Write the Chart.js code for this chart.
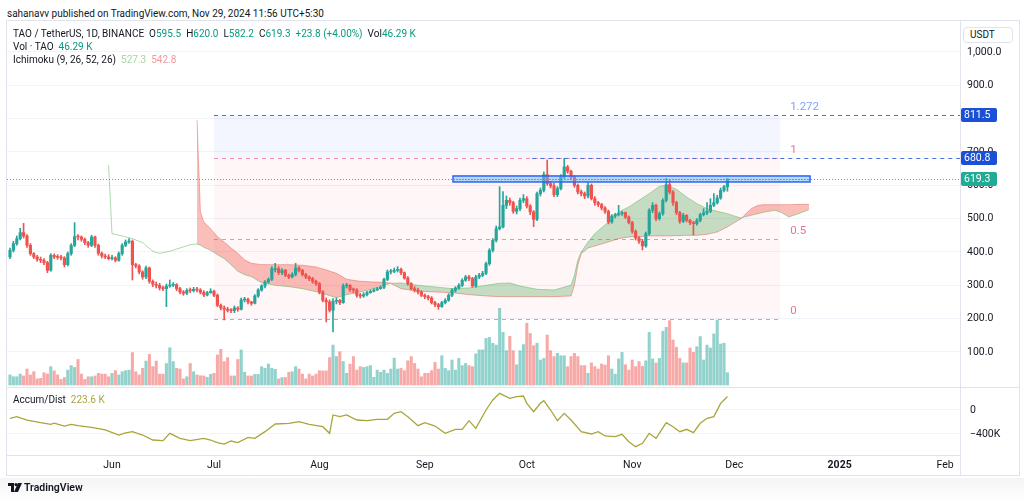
<!DOCTYPE html>
<html>
<head>
<meta charset="utf-8">
<script src="https://cdn.jsdelivr.net/npm/chart.js@4.4.1/dist/chart.umd.min.js"></script>
<style>
  body { margin: 0; width: 1024px; height: 501px; background: #fff; position: relative; overflow: hidden;
         font-family: Roboto, "Noto Sans", sans-serif; color: #131722; }
  .abs { position: absolute; white-space: nowrap; }
  .g { color: #089981; }
  .sp { margin-left: 5px; }
  .line { position: absolute; background: #e0e3eb; }
</style>
</head>
<body>
<div class="abs" style="left:7px;top:8px;font-size:10px;line-height:12px">sahanavv published on TradingView.com, Nov 29, 2024 11:56 UTC+5:30</div>

<!-- frame -->
<div class="line" style="left:6px;top:20px;width:1014px;height:1px"></div>
<div class="line" style="left:6px;top:20px;width:1px;height:455px"></div>
<div class="line" style="left:1019px;top:20px;width:1px;height:455px"></div>
<div class="line" style="left:6px;top:475px;width:1014px;height:1px"></div>
<div class="line" style="left:960px;top:20px;width:1px;height:455px"></div>

<canvas id="priceChart" width="1013" height="367" style="position:absolute;left:7px;top:20px"></canvas>
<canvas id="adChart" width="1013" height="88" style="position:absolute;left:7px;top:387px"></canvas>
<div class="line" style="left:6px;top:387px;width:1014px;height:1px"></div>

<!-- legends -->
<div class="abs" style="left:13px;top:28px;font-size:10px;line-height:12px">TAO / TetherUS, 1D, BINANCE<span class="sp"></span>O<span class="g">595.5</span><span class="sp"></span>H<span class="g">620.0</span><span class="sp"></span>L<span class="g">582.2</span><span class="sp"></span>C<span class="g">619.3</span><span class="sp"></span><span class="g">+23.8 (+4.00%)</span><span class="sp"></span>Vol<span class="g">46.29 K</span></div>
<div class="abs" style="left:13px;top:41px;font-size:10px;line-height:12px">Vol · TAO<span class="sp"></span><span class="g">46.29 K</span></div>
<div class="abs" style="left:13px;top:54px;font-size:10px;line-height:12px">Ichimoku (9, 26, 52, 26)<span class="sp"></span><span style="color:#a5d6a7">527.3</span><span class="sp"></span><span style="color:#ef9a9a">542.8</span></div>
<div class="abs" style="left:13px;top:394px;font-size:10px;line-height:12px">Accum/Dist<span class="sp"></span><span style="color:#aaa53a">223.6 K</span></div>

<div class="abs" style="left:963px;top:27px;width:50px;height:16px;border:1px solid #e0e3eb;border-radius:4px;box-sizing:border-box;font-size:10px;line-height:14px;padding-left:6px;background:#fff">USDT</div>

<!-- footer -->
<div style="position:absolute;left:0;top:478px;width:1024px;height:23px;background:linear-gradient(#f4f4f6,#fff)"></div>
<svg class="abs" style="left:8px;top:483px" width="14" height="9" viewBox="0 0 14 9">
  <path d="M0 0h6v9H3V3H0z" fill="#131722"/><circle cx="8" cy="1.6" r="1.6" fill="#131722"/><path d="M10 0h4l-4 9H6z" fill="#131722"/>
</svg>
<div class="abs" style="left:24px;top:482px;font-size:10.5px;line-height:12px;font-weight:600">TradingView</div>

<script>
// ---- data (day index 0 = 2 May 2024, one candle per day) ----
const opens = [
  385,405,425,440,458,448,420,395,385,378, 375,368,345,390,385,384,382,362,395,420,
  446,445,438,428,420,445,420,396,388,385, 380,382,375,395,420,430,432,362,358,340,
  325,352,312,303,300,292,290,298,300,302, 290,280,276,285,284,288,286,279,271,278,
  282,270,240,232,228,225,224,232,228,256, 258,250,246,268,286,298,310,318,350,350,
  338,345,330,325,333,352,345,332,325,320, 312,305,280,255,250,225,252,255,248,298,
  300,287,286,270,268,272,278,282,286,290, 294,318,340,342,345,348,338,322,305,290,
  285,280,270,266,262,248,242,236,248,255, 270,285,292,300,315,325,320,298,325,330,
  336,365,405,435,470,475,540,555,548,522, 530,555,560,538,520,498,575,585,632,605,
  598,572,590,625,655,642,625,600,580,575, 568,600,560,548,542,532,522,490,508,512,
  515,518,505,488,462,442,432,418,455,525, 540,500,515,555,602,580,548,518,492,510,
  495,488,485,495,512,518,522,540,548,562, 585,595.5
];
const highs = [
  412,432,448,471,486,452,425,398,390,385, 380,372,395,394,392,390,386,400,425,488,
  452,448,442,432,450,448,424,400,394,392, 390,386,400,425,436,440,436,366,362,344,
  358,355,316,310,306,298,304,316,308,305, 294,284,290,292,294,294,290,284,282,290,
  286,274,244,238,234,230,238,236,262,264, 262,252,272,290,302,314,322,356,366,356,
  350,348,334,338,366,356,348,336,328,324, 316,308,284,262,256,260,262,258,304,306,
  302,292,290,276,278,282,286,290,294,298, 322,346,348,352,356,352,340,326,308,296,
  292,284,274,270,266,252,246,252,260,275, 290,296,305,320,330,330,324,330,336,342,
  370,410,440,478,596,581,568,562,552,538, 562,572,566,542,524,580,592,640,676,612,
  606,596,632,681,660,646,628,604,586,580, 608,604,566,552,546,536,526,512,516,540,
  522,520,508,492,466,446,438,460,530,548, 544,520,560,621,618,584,552,522,516,512,
  498,492,500,516,530,548,560,575,570,592, 600,620.0
];
const lows = [
  380,400,420,436,442,414,390,380,372,368, 362,338,342,380,378,376,355,358,390,416,
  436,432,422,414,416,414,390,382,380,376, 376,370,372,390,416,426,316,352,334,318,
  320,306,296,292,286,284,236,294,296,284, 274,270,272,278,280,280,274,266,268,276,
  266,236,226,196,220,218,218,222,226,250, 244,240,244,264,282,292,306,314,340,332,
  332,326,320,322,328,340,328,320,314,306, 300,274,250,190,220,160,244,242,246,292,
  282,278,264,262,264,268,276,280,284,288, 290,314,334,338,340,332,318,300,286,280,
  274,266,260,256,244,236,228,234,244,252, 266,280,288,296,312,314,294,294,320,326,
  332,360,400,430,466,472,530,540,516,514, 524,548,532,512,476,494,568,580,600,592,
  566,566,586,620,636,618,594,574,568,560, 562,556,540,536,526,516,484,486,502,508,
  510,500,484,456,436,426,406,414,450,518, 494,496,510,550,574,540,512,486,488,490,
  482,451,480,490,508,512,518,536,544,558, 580,582.2
];
const closes = [
  405,425,440,458,448,420,395,385,378,375, 368,345,390,385,384,382,362,395,420,446,
  445,438,428,420,445,420,396,388,385,380, 382,375,395,420,430,432,362,358,340,325,
  352,312,303,300,292,290,298,300,302,290, 280,276,285,284,288,286,279,271,278,282,
  270,240,232,228,225,224,232,228,256,258, 250,246,268,286,298,310,318,350,350,338,
  345,330,325,333,352,345,332,325,320,312, 305,280,255,250,225,252,255,248,298,300,
  287,286,270,268,272,278,282,286,290,294, 318,340,342,345,348,338,322,305,290,285,
  280,270,266,262,248,242,236,248,255,270, 285,292,300,315,325,320,298,325,330,336,
  365,405,435,470,475,540,555,548,522,530, 555,560,538,520,498,575,585,632,605,598,
  572,590,625,655,642,625,600,580,575,568, 600,560,548,542,532,522,490,508,512,515,
  518,505,488,462,442,432,418,455,525,540, 500,515,555,602,580,548,518,492,510,495,
  488,485,495,512,518,522,540,548,562,585, 595.5,619.3
];
// volume in thousands of TAO
const volumes = [
  38,31,31,41,34,60,38,50,23,25, 46,41,69,53,38,21,28,56,73,66,
  96,41,21,31,31,34,44,41,41,31, 44,54,38,50,54,56,122,50,38,63,
  90,115,69,90,41,41,81,140,88,63, 60,23,31,81,50,38,35,34,29,40,
  44,113,134,88,103,34,34,96,132,48, 34,34,40,40,69,63,79,63,59,23,
  28,28,48,50,69,60,41,23,41,34, 41,54,53,53,103,150,107,125,88,44,
  78,107,56,69,66,69,73,29,56,48, 56,44,60,101,60,63,54,91,107,81,
  60,31,44,44,54,85,60,110,63,54, 94,56,100,73,81,73,69,117,132,132,
  175,179,157,150,288,198,129,183,129,76, 129,152,232,194,148,157,94,100,188,129,
  107,119,110,110,69,107,119,107,73,73, 44,83,69,60,79,75,110,60,41,98,
  123,76,56,94,69,88,70,91,198,98, 83,100,202,217,242,169,142,100,83,83,
  139,123,144,182,94,150,139,192,244,154, 157,46.29
];

// Ichimoku leading spans (plotted 26 days ahead)
const cloudDays = [
  29,30,33,36,39,42,44,47,50,53, 55,56,57,59,61,63,65,67,69,71,
  74,78,82,86,90,93,96,99,103,107, 110,112,115,120,125,130,135,140,144,147,
  150,155,160,165,166,167,168,170,172,176, 179,182,185,188,191,193,196,199,202,205,
  208,211,213,215,216,218,220,222,225,227, 229,232,235
];
const spanA = [
  660,455,448,440,428,402,396,402,412,422, 424,420,414,405,392,380,362,342,332,326,
  308,300,296,290,281,272,263,272,280,290, 300,306,307,300,295,290,292,300,306,307,
  298,288,286,300,330,375,400,430,455,490, 520,535,555,575,597,600,588,565,545,530,
  522,515,508,502,505,510,515,520,525,518, 505,515,527.3
];
const spanB = [
  null,null,null,null,null,null,null,null,null,null, 795,520,490,470,446,430,412,396,376,366,
  362,362,362,360,355,346,336,318,312,310, 309,306,290,282,280,278,272,268,266,266,
  266,266,266,268,300,360,395,412,418,430, 440,445,446,448,448,448,449,450,450,453,
  460,475,488,500,510,530,540,542,542,542, 542,542.8,542.8
];

// Accumulation / Distribution (thousands)
const adDays = [
  0,2,5,9,12,13,16,18,20,24, 28,32,34,36,39,42,45,47,50,53,
  57,59,61,63,65,67,70,72,75,78, 82,85,88,92,94,95,97,99,102,105,
  108,111,113,115,117,120,122,125,128,131, 133,135,137,140,142,144,147,149,151,152,
  154,156,157,159,161,163,165,168,171,173, 175,178,180,182,184,186,188,190,193,195,
  197,199,201,203,205,207,209,210,211
];
const adVals = [
  -139,-111,-167,-211,-239,-220,-267,-239,-261,-289, -333,-417,-380,-361,-417,-500,-511,-389,-472,-511,
  -472,-500,-544,-567,-517,-544,-456,-472,-361,-233, -222,-194,-239,-278,-389,-83,-111,-83,-167,-178,
  -156,-156,-56,-28,-111,-261,-211,-267,-389,-322, -322,-178,-306,0,167,278,194,222,233,111,
  -28,111,156,0,-178,-56,-167,-361,-400,-361, -433,-444,-405,-528,-611,-556,-389,-472,-211,-278,
  -361,-322,-378,-222,-139,-111,111,167,223.6
];

// drawings
const fibLevels = ['0', '0.5', '1', '1.272'];
const fibPrices = [200, 440.4, 680.8, 811.5];
const fibStartDay = 60, fibEndDay = 226.5;
const rayPrices = [811.5, 680.8];
const rayStartDays = [60, 153.6];
const boxDays = [130.3, 235.3];
const boxPrices = [610, 628];
const lastPrice = 619.3;
const tagPrices = [811.5, 680.8, 619.3];

// axes
const priceTicks = [100, 200, 300, 400, 500, 600, 700, 800, 900, 1000];
const adTicks = [0, -400];
const monthDays = [30, 60, 91, 122, 152, 183, 213, 244, 275];
const monthLabels = ['Jun', 'Jul', 'Aug', 'Sep', 'Oct', 'Nov', 'Dec', '2025', 'Feb'];

// ---- chart ----
const FONT = 'Roboto, "Noto Sans", sans-serif';
Chart.defaults.font.family = FONT;
Chart.defaults.color = '#131722';

const X_MIN = -0.88, X_MAX = 279.4;
const UP = '#26a69a', DOWN = '#ef5350';
const candleColors = closes.map((c, i) => c >= opens[i] ? UP : DOWN);
const volColors = closes.map((c, i) => c >= opens[i] ? 'rgba(38,166,154,0.5)' : 'rgba(239,83,80,0.5)');

function hline(ctx, x0, x1, y) {
    ctx.beginPath();
    ctx.moveTo(x0, Math.round(y) + 0.5);
    ctx.lineTo(x1, Math.round(y) + 0.5);
    ctx.stroke();
}

const drawings = {
    id: 'drawings',
    beforeDatasetsDraw(chart) {
        const { ctx, chartArea: a, scales: { x, y } } = chart;
        const py = p => y.getPixelForValue(p);
        const fx0 = x.getPixelForValue(fibStartDay), fx1 = x.getPixelForValue(fibEndDay);
        ctx.save();
        ctx.beginPath(); ctx.rect(a.left, a.top, a.width, a.height); ctx.clip();

        // fib zones
        ctx.fillStyle = 'rgba(242,54,69,0.045)';
        ctx.fillRect(fx0, py(fibPrices[2]), fx1 - fx0, py(fibPrices[0]) - py(fibPrices[2]));
        ctx.fillStyle = 'rgba(41,98,255,0.055)';
        ctx.fillRect(fx0, py(fibPrices[3]), fx1 - fx0, py(fibPrices[2]) - py(fibPrices[3]));

        // last price dotted line
        ctx.lineWidth = 1;
        ctx.setLineDash([1, 2]);
        ctx.strokeStyle = 'rgba(34,171,148,0.9)';
        hline(ctx, a.left, a.right, py(lastPrice));

        // fib lines
        ctx.setLineDash([4, 4]);
        ctx.strokeStyle = '#f48fb1';
        for (let k = 0; k < 3; k++) hline(ctx, fx0, fx1, py(fibPrices[k]));
        // horizontal rays
        ctx.strokeStyle = '#4a6fe3';
        rayPrices.forEach((p, k) => hline(ctx, x.getPixelForValue(rayStartDays[k]), a.right, py(p)));

        // fib labels
        ctx.setLineDash([]);
        ctx.font = '11.5px ' + FONT;
        ctx.textAlign = 'left';
        ctx.textBaseline = 'alphabetic';
        fibLevels.forEach((lbl, k) => {
            ctx.fillStyle = k === 3 ? '#86a2f3' : '#ec7199';
            ctx.fillText(lbl, fx1 + 10, py(fibPrices[k]) - 5);
        });
        ctx.restore();
    },
    afterDatasetsDraw(chart) {
        const { ctx, chartArea: a, scales: { x, y } } = chart;
        const bx0 = x.getPixelForValue(boxDays[0]), bx1 = x.getPixelForValue(boxDays[1]);
        const by0 = y.getPixelForValue(boxPrices[1]), by1 = y.getPixelForValue(boxPrices[0]);
        ctx.save();
        ctx.beginPath(); ctx.rect(a.left, a.top, a.width, a.height); ctx.clip();
        ctx.fillStyle = 'rgba(100,181,246,0.45)';
        ctx.fillRect(bx0, by0, bx1 - bx0, by1 - by0);
        ctx.strokeStyle = '#2962ff';
        ctx.lineWidth = 1.5;
        ctx.strokeRect(bx0, by0, bx1 - bx0, by1 - by0);
        ctx.lineWidth = 1;
        ctx.setLineDash([1, 2]);
        ctx.strokeStyle = 'rgba(34,171,148,0.9)';
        hline(ctx, bx0, bx1, y.getPixelForValue(lastPrice));
        ctx.restore();
    },
    afterDraw(chart) {
        const { ctx, chartArea: a, scales: { y } } = chart;
        ctx.save();
        ctx.font = '10.5px ' + FONT;
        ctx.textBaseline = 'middle';
        ctx.textAlign = 'left';
        tagPrices.forEach((p, k) => {
            const cy = Math.round(y.getPixelForValue(p));
            ctx.fillStyle = k === 2 ? '#22ab94' : '#1b4fd6';
            ctx.beginPath();
            ctx.roundRect(a.right + 1, cy - 7, 36, 14, 2);
            ctx.fill();
            ctx.fillStyle = '#fff';
            ctx.fillText(p.toFixed(1), a.right + 4, cy + 0.5);
        });
        ctx.restore();
    }
};

new Chart(document.getElementById('priceChart'), {
    type: 'bar',
    data: {
        datasets: [
            {
                type: 'bar', label: 'Vol', yAxisID: 'yv',
                data: volumes.map((v, i) => ({ x: i, y: v })),
                backgroundColor: volColors, barThickness: 2.4, grouped: false, order: 10
            },
            {
                type: 'line', label: 'Leading Span B', yAxisID: 'y',
                data: cloudDays.map((d, k) => ({ x: d, y: spanB[k] })),
                borderColor: 'rgba(239,83,80,0.45)', borderWidth: 1, pointRadius: 0, order: 6
            },
            {
                type: 'line', label: 'Leading Span A', yAxisID: 'y',
                data: cloudDays.map((d, k) => ({ x: d, y: spanA[k] })),
                borderColor: 'rgba(102,187,106,0.55)', borderWidth: 1, pointRadius: 0, order: 5,
                fill: { target: 1, above: 'rgba(67,160,71,0.3)', below: 'rgba(244,67,54,0.34)' }
            },
            {
                type: 'bar', label: 'Wicks', yAxisID: 'y',
                data: highs.map((h, i) => ({ x: i, y: [lows[i], h] })),
                backgroundColor: candleColors, barThickness: 1, grouped: false, order: 2
            },
            {
                type: 'bar', label: 'TAO / TetherUS', yAxisID: 'y',
                data: opens.map((o, i) => ({ x: i, y: [o, closes[i]] })),
                backgroundColor: candleColors, barThickness: 2.5, grouped: false, minBarLength: 1, order: 1
            }
        ]
    },
    options: {
        responsive: false,
        animation: false,
        events: [],
        layout: { padding: 0 },
        plugins: { legend: { display: false }, tooltip: { enabled: false } },
        scales: {
            x: { type: 'linear', min: X_MIN, max: X_MAX, display: false, offset: false },
            y: {
                position: 'right', min: -5.1, max: 1095.9,
                afterBuildTicks: s => { s.ticks = priceTicks.map(v => ({ value: v })); },
                afterFit: s => { s.width = 60; s.paddingTop = 0; s.paddingBottom = 0; },
                ticks: {
                    padding: 7, font: { size: 10.5 }, color: '#131722',
                    callback: v => v.toLocaleString('en-US', { minimumFractionDigits: 1, maximumFractionDigits: 1 })
                },
                grid: { color: '#f0f3fa', drawTicks: false },
                border: { color: '#e0e3eb' }
            },
            yv: { display: false, min: -7.5, max: 1372 }
        }
    },
    plugins: [drawings]
});

new Chart(document.getElementById('adChart'), {
    type: 'line',
    data: {
        datasets: [{
            label: 'Accum/Dist',
            data: adDays.map((d, k) => ({ x: d, y: adVals[k] })),
            borderColor: '#aaa53a', borderWidth: 1.3, pointRadius: 0, tension: 0
        }]
    },
    options: {
        responsive: false,
        animation: false,
        events: [],
        layout: { padding: 0 },
        plugins: { legend: { display: false }, tooltip: { enabled: false } },
        scales: {
            x: {
                type: 'linear', min: X_MIN, max: X_MAX, offset: false,
                afterBuildTicks: s => { s.ticks = monthDays.map(v => ({ value: v })); },
                afterFit: s => { s.height = 20; s.paddingLeft = 0; s.paddingRight = 0; },
                ticks: {
                    autoSkip: false, maxRotation: 0, padding: 4, color: '#131722',
                    font: c => ({ size: 10.5, weight: (c.tick && c.tick.value === 244) ? 'bold' : 'normal' }),
                    callback: v => monthLabels[monthDays.indexOf(v)]
                },
                grid: { display: false, drawTicks: false },
                border: { color: '#e0e3eb' }
            },
            y: {
                position: 'right', min: -750, max: 383.3,
                afterBuildTicks: s => { s.ticks = adTicks.map(v => ({ value: v })); },
                afterFit: s => { s.width = 60; s.paddingTop = 0; s.paddingBottom = 0; },
                ticks: {
                    padding: 10, font: { size: 10.5 }, color: '#131722',
                    callback: v => v === 0 ? '0' : '\u2212' + Math.abs(v) + 'K'
                },
                grid: { color: '#f0f3fa', drawTicks: false },
                border: { color: '#e0e3eb' }
            }
        }
    }
});
</script>
</body>
</html>
